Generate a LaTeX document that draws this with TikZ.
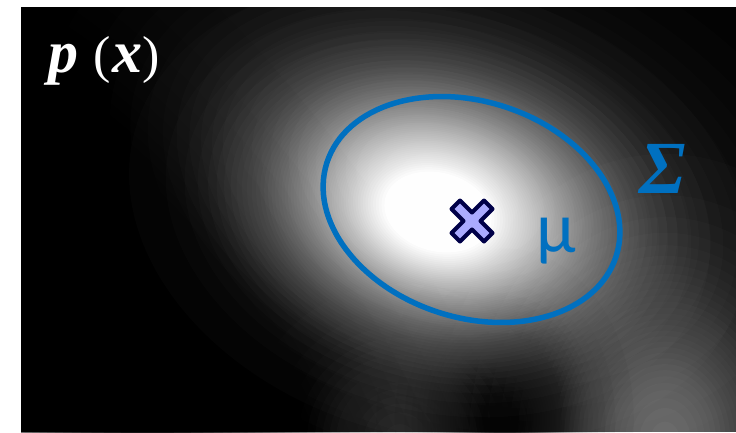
\documentclass[tikz,border=0pt]{standalone}
\usepackage{fontspec}
\usetikzlibrary{shapes.geometric}
\newfontfamily\lserif{Liberation Serif}
\newfontfamily\carl{Carlito}
\definecolor{sigblue}{RGB}{0,112,192}
\definecolor{crossfill}{RGB}{170,170,255}
\definecolor{crossline}{RGB}{0,0,72}
\tikzset{
  lab/.style={anchor=base, inner sep=0pt},
}
% glow: #1 colour, #2 amplitude, #3 levels, #4 centre x, #5 centre y, #6 sigma x, #7 sigma y, #8 rotation
\newcommand\myglow[8]{%
  \pgfmathsetmacro\gbmax{min(#2,1)}%
  \pgfmathsetmacro\gdb{\gbmax/#3}%
  \foreach \j in {1,...,#3}{%
    \pgfmathsetmacro\gs{sqrt(2*ln(#2/((\j-0.5)*\gdb)))}%
    \pgfmathsetmacro\gal{min(1,\gdb/(1-(\j-1)*\gdb))}%
    \fill[#1, fill opacity=\gal, rotate around={#8:(#4,#5)}] (#4,#5) ellipse [x radius=\gs*#6 pt, y radius=\gs*#7 pt];
  }%
}
\begin{document}
\begin{tikzpicture}[x=1pt,y=-1pt]
\useasboundingbox (0,0) rectangle (736,432);
\fill[white] (0,0) rectangle (736,432);
\fill[black] (21,7) rectangle (736,432);
\begin{scope}
  \clip (21,7) rectangle (736,432);
  % broad halo
  \myglow{white}{0.38}{30}{450}{190}{170}{110}{-20}
  % lower right glow
  \myglow{white}{0.45}{30}{665}{440}{80}{100}{0}
  % lower middle glow
  \myglow{white}{0.2}{15}{400}{440}{60}{60}{0}
  % dark hole at the bottom
  \myglow{black}{0.85}{30}{505}{420}{45}{60}{0}
  % dark lower left
  \myglow{black}{0.95}{30}{120}{380}{250}{110}{-54.6}
  % bright core
  \myglow{white}{1.15}{60}{438}{212}{100}{72}{-15}
\end{scope}
% covariance ellipse
\node[draw=sigblue, line width=5.5pt, ellipse, minimum width=304pt, minimum height=216pt, inner sep=0pt, rotate=-18] (cov) at (471.5,209.5) {};
% mean marker
\begin{scope}[shift={(472,221)}, rotate=45]
  \filldraw[fill=crossfill, draw=crossline, line width=4pt, line join=round]
    (-6,-23) -- (6,-23) -- (6,-6) -- (23,-6) -- (23,6) -- (6,6) -- (6,23) -- (-6,23) -- (-6,6) -- (-23,6) -- (-23,-6) -- (-6,-6) -- cycle;
\end{scope}
% labels
\node[lab, text=white, font={\lserif\bfseries\itshape\fontsize{60}{60}\selectfont}] (pp) at (63,72) {p};
\node[lab, text=white, font={\lserif\fontsize{52}{52}\selectfont}] (lp) at (102,72) {(};
\node[lab, text=white, font={\lserif\bfseries\itshape\fontsize{60}{60}\selectfont}] (xx) at (127,72) {x};
\node[lab, text=white, font={\lserif\fontsize{52}{52}\selectfont}] (rp) at (151,72) {)};
\node[lab, text=sigblue, font={\carl\fontsize{72}{72}\selectfont}] (mu) at (556.5,252) {μ};
\node[lab, text=sigblue, font={\lserif\bfseries\itshape\fontsize{75}{75}\selectfont}] (sig) at (663,193) {Σ};
\end{tikzpicture}
\end{document}
